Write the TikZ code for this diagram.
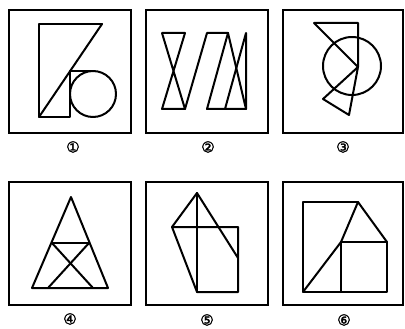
\documentclass[tikz,border=0pt]{standalone}
\usepackage{fontspec}
\newfontfamily\symfont{DejaVu Sans}[FakeBold=2]
\begin{document}
\begin{tikzpicture}[x=1pt,y=-1pt,
  frame/.style={line width=2.4pt},
  fig/.style={line width=2pt,line join=round,line cap=round},
  lab/.style={font=\symfont\fontsize{15}{16}\selectfont,inner sep=0pt}]
\useasboundingbox[fill=white] (0,0) rectangle (405,329);
% frames
\draw[frame] (9,10) rectangle (131,133);
\draw[frame] (146,10) rectangle (268,133);
\draw[frame] (283,10) rectangle (403,133);
\draw[frame] (9,182) rectangle (131,305);
\draw[frame] (146,182) rectangle (268,305);
\draw[frame] (283,182) rectangle (403,305);
% panel 1
\draw[fig] (102,24) -- (39,24) -- (39,117) -- (70,117) -- (70,71) -- (93,71);
\draw[fig] (102,24) -- (39,117);
\draw[fig] (93,94) circle (23);
% panel 2
\draw[fig] (162,33) -- (185,33) -- (162,109) -- (185,109) -- (162,33);
\draw[fig] (185,109) -- (207,33) -- (228,33) -- (207,109) -- (246,109) -- (246,33) -- (225,109);
\draw[fig] (228,33) -- (246,109);
% panel 3
\draw[fig] (358,67) -- (314,23) -- (358,23) -- cycle;
\draw[fig] (352,66) circle (29);
\draw[fig] (358,67) -- (323,99) -- (349,115) -- cycle;
% panel 4
\draw[fig] (71,197) -- (32,288) -- (108,288) -- cycle;
\draw[fig] (52,243) -- (89,243);
\draw[fig] (52,243) -- (93,288);
\draw[fig] (89,243) -- (48,288);
% panel 5
\draw[fig] (197,193) -- (172,227) -- (197,292) -- (238,292) -- (238,227) -- (172,227);
\draw[fig] (197,193) -- (197,292);
\draw[fig] (197,193) -- (238,258);
% panel 6
\draw[fig] (358,202) -- (303,202) -- (303,292) -- (387,292) -- (387,242) -- (341,242) -- (341,292);
\draw[fig] (303,292) -- (341,242) -- (358,202) -- (387,242);
% labels
\node[lab] (l1) at (73,147) {①};
\node[lab] (l2) at (208,147) {②};
\node[lab] (l3) at (343,147) {③};
\node[lab] (l4) at (70,319) {④};
\node[lab] (l5) at (207,320) {⑤};
\node[lab] (l6) at (344,320) {⑥};
\end{tikzpicture}
\end{document}
